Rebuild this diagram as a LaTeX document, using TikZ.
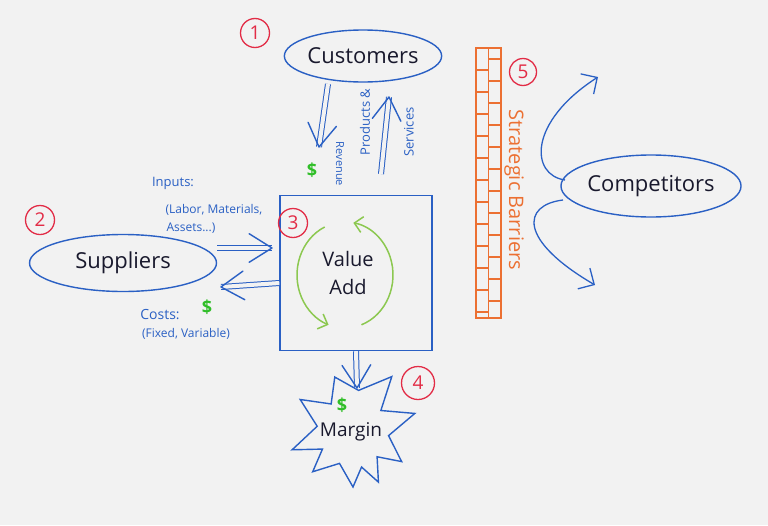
\documentclass[tikz,border=0pt]{standalone}
\usepackage{fontspec}
\setmainfont{Open Sans}
\usetikzlibrary{shapes.geometric,arrows.meta,calc}
\definecolor{paper}{RGB}{242,242,242}
\definecolor{pen}{RGB}{42,96,196}
\definecolor{ink}{RGB}{25,25,45}
\definecolor{numred}{RGB}{226,44,70}
\definecolor{money}{RGB}{48,190,40}
\definecolor{cycg}{RGB}{140,200,80}
\definecolor{brick}{RGB}{236,112,50}
\begin{document}
\begin{tikzpicture}[x=1pt,y=-1pt,
  bubble/.style={ellipse, draw=pen, line width=1.4pt, inner sep=0pt, text=ink, font=\fontsize{22}{24}\selectfont},
  numc/.style={circle, draw=numred, line width=1.3pt, text=numred, minimum size=29pt, inner sep=0pt, font=\fontsize{19}{19}\selectfont},
  note/.style={text=pen, font=\fontsize{12}{14}\selectfont, align=left, inner sep=0pt},
  dollar/.style={text=money, font=\bfseries\fontsize{18}{18}\selectfont, inner sep=0pt},
  dblshaft/.style={draw=pen, line width=1pt, double=paper, double distance=4pt},
  headtip/.style={draw=pen, line width=1.4pt, line cap=round, line join=round},
  curvy/.style={draw=pen, line width=1.3pt, -{Straight Barb[length=12pt,width=24pt]}},
  cyc/.style={draw=cycg, line width=1.5pt, -{Straight Barb[length=8pt,width=16pt]}},
  wall/.style={draw=brick, line width=1.1pt}]
\useasboundingbox (0,0) rectangle (768,525);
\fill[paper] (0,0) rectangle (768,525);

% main nodes
\node[bubble, minimum width=146pt, minimum height=52pt] (cust) at (363,56) {Customers};
\node[bubble, minimum width=187pt, minimum height=57pt] (supp) at (123,263) {Suppliers};
\node[bubble, minimum width=148pt, minimum height=62pt] (comp) at (651,186) {Competitors};
\node[draw=pen, line width=1.4pt, minimum width=152pt, minimum height=155pt] (vabox) at (356,273) {};
\node[text=ink, align=center, font=\fontsize{20}{28}\selectfont] (va) at (348,273) {Value\\Add};

% numbers
\node[numc] (n1) at (255,33) {1};
\node[numc] (n2) at (40,220) {2};
\node[numc] (n3) at (293,223) {3};
\node[numc, minimum size=33pt] (n4) at (418,383) {4};
\node[numc, minimum size=27pt] (n5) at (523,72) {5};

% flow end points
\coordinate (revA) at (328,84);
\coordinate (revB) at (319,147);
\coordinate (psA) at (381,174);
\coordinate (psB) at (389,97);
\coordinate (inA) at (217,248);
\coordinate (inB) at (272,248);
\coordinate (coA) at (vabox.west |- 0,283);
\coordinate (coB) at (221,287);
\coordinate (vaS) at (vabox.south);
\coordinate (marTop) at (357,388);

% margin
\draw[pen, line width=1.4pt, fill=paper, shift={(353,430)}]
  (-109:56) -- (-82:40) -- (-54:66) -- (-35:34) -- (-15:64) -- (9:36) -- (33:58) -- (48:36)
  -- (64:58) -- (77:38) -- (90:57) -- (112:36) -- (134:58) -- (148:36) -- (162:64)
  -- (186:36) -- (210:61) -- (230:34) -- cycle;

% double arrows
\foreach \a/\b in {revA/revB, psA/psB, inA/inB, coA/coB, vaS/marTop}{
  \draw[dblshaft] (\a) -- (\b);
  \draw[headtip] ($(\b)!27pt!32:(\a)$) -- (\b) -- ($(\b)!27pt!-32:(\a)$);
}

% labels of flows
\node[dollar] (revd) at (312,170) {\$};
\node[note, rotate=-90, font=\fontsize{11}{12}\selectfont] (revt) at (340,164) {Revenue};
\node[note, rotate=90, font=\fontsize{13}{14}\selectfont] (prod) at (365,122) {Products \&};
\node[note, rotate=90, font=\fontsize{13}{14}\selectfont] (serv) at (409,132) {Services};
\node[note, font=\fontsize{13}{14}\selectfont] (inp) at (173,183) {Inputs:};
\node[note] (inp2) at (214,210) {(Labor, Materials,};
\node[note] (inp3) at (191,228) {Assets...)};
\node[dollar] (cod) at (207,307) {\$};
\node[note, font=\fontsize{14}{14}\selectfont] (cost) at (160,315) {Costs:};
\node[note] (cost2) at (186,334) {(Fixed, Variable)};

% value add cycle
\draw[cyc] ($(345,275)+(-115:48 and 53)$) arc[start angle=-115, end angle=-250, x radius=48, y radius=53];
\draw[cyc] ($(345,275)+(70:48 and 53)$) arc[start angle=70, end angle=-80, x radius=48, y radius=53];

\node[dollar] (mard) at (342,405) {\$};
\node[text=ink, font=\fontsize{19}{20}\selectfont] (mar) at (351,432) {Margin};

% barrier wall
\draw[wall] (476,48) rectangle (501,318);
\draw[wall] (488.5,48) -- (488.5,318);
\foreach \yy in {70,92,...,312} \draw[wall] (476,\yy) -- (488.5,\yy);
\foreach \yy in {59,81,...,307} \draw[wall] (488.5,\yy) -- (501,\yy);
\node[text=brick, rotate=-90, font=\fontsize{20}{20}\selectfont] (sb) at (514,190) {Strategic Barriers};

% competitor arrows
\coordinate (cuS) at (565,180);
\coordinate (cuT) at (598,77);
\draw[curvy] (cuS) .. controls (530,175) and (528,122) .. (cuT);
\coordinate (clS) at (563,200);
\coordinate (clT) at (595,285);
\draw[curvy] (clS) .. controls (522,205) and (518,240) .. (clT);
\end{tikzpicture}
\end{document}
